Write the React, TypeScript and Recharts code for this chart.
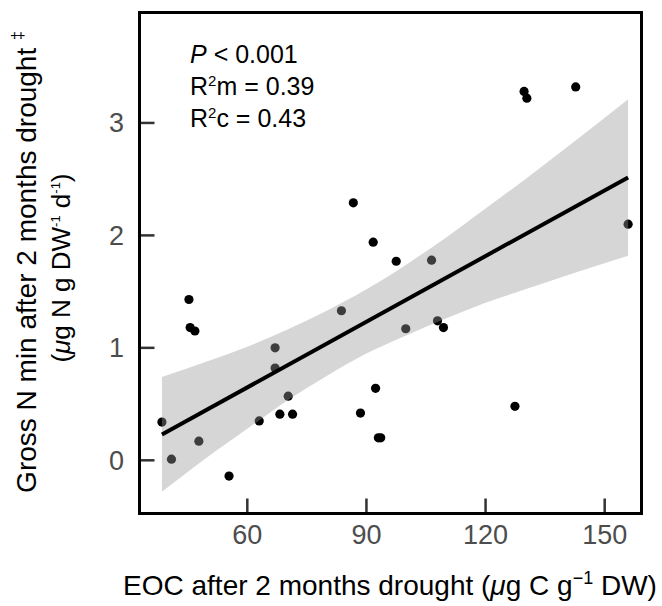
import React from "react";
import { ComposedChart, Scatter, Line, Area, XAxis, YAxis } from "recharts";

// EOC (x) vs gross N mineralisation (y), one entry per soil core
const eocValues = [38.5, 40.9, 45.3, 45.6, 46.8, 47.8, 55.4, 63.0, 67.0, 67.0, 68.2, 70.3, 71.4, 83.7, 86.7, 88.5, 91.7, 92.3, 93.0, 93.6, 97.5, 99.9, 106.4, 107.9, 109.4, 127.4, 129.7, 130.4, 142.7, 155.9];
const nminValues = [0.34, 0.01, 1.43, 1.18, 1.15, 0.17, -0.14, 0.35, 1.0, 0.82, 0.41, 0.57, 0.41, 1.33, 2.29, 0.42, 1.94, 0.64, 0.2, 0.2, 1.77, 1.17, 1.78, 1.24, 1.18, 0.48, 3.28, 3.22, 3.32, 2.1];

// fitted line ends
const fitX = [38.5, 155.9];
const fitY = [0.23, 2.515];

// confidence band
const bandX = [38.5, 50, 60, 70, 80, 90, 100, 110, 120, 130, 140, 155.9];
const bandLow = [-0.28, 0.03, 0.28, 0.53, 0.75, 0.95, 1.11, 1.26, 1.4, 1.52, 1.64, 1.82];
const bandHigh = [0.74, 0.88, 1.01, 1.16, 1.33, 1.52, 1.74, 1.98, 2.24, 2.5, 2.77, 3.21];

const xTicks = [60, 90, 120, 150];
const yTicks = [0, 1, 2, 3];

const points = eocValues.map((x, i) => ({ x, y: nminValues[i] }));
const fit = fitX.map((x, i) => ({ x, y: fitY[i] }));
const band = bandX.map((x, i) => ({ x, range: [bandLow[i], bandHigh[i]] }));

const W = 662;
const H = 606;
const LEFT = 139.5;
const RIGHT = 641.5;
const TOP = 12.5;
const BOTTOM = 513.5;
const FONT = "'Liberation Sans', Arial, Helvetica, sans-serif";
const TICK_COLOR = "#4d4d4d";

const XTick = (props: any) => {
  const { x, payload } = props;
  return (
    <g>
      <line x1={x} x2={x} y1={BOTTOM} y2={BOTTOM - 15} stroke="#333" strokeWidth={2.5} />
      <text x={x} y={543.5} textAnchor="middle" fontSize={27} fontFamily={FONT} fill={TICK_COLOR}>
        {payload.value}
      </text>
    </g>
  );
};

const YTick = (props: any) => {
  const { y, payload } = props;
  return (
    <g>
      <line x1={LEFT} x2={LEFT + 15} y1={y} y2={y} stroke="#333" strokeWidth={2.5} />
      <text x={124} y={y} dy="0.35em" textAnchor="end" fontSize={27} fontFamily={FONT} fill={TICK_COLOR}>
        {payload.value}
      </text>
    </g>
  );
};

const Dot = (props: any) => <circle cx={props.cx} cy={props.cy} r={4.6} fill="#000" />;

export default function App() {
  return (
    <div style={{ position: "absolute", left: 0, top: 0, width: W, height: H, background: "#fff" }}>
      <ComposedChart
        width={W}
        height={H}
        margin={{ top: TOP, right: W - RIGHT, bottom: 0, left: 0 }}
      >
        <XAxis
          dataKey="x"
          type="number"
          domain={[32.85, 159.27]}
          allowDataOverflow
          ticks={xTicks}
          height={H - BOTTOM}
          axisLine={false}
          tickLine={false}
          tick={<XTick />}
        />
        <YAxis
          dataKey="y"
          type="number"
          domain={[-0.473, 3.982]}
          allowDataOverflow
          ticks={yTicks}
          width={LEFT}
          axisLine={false}
          tickLine={false}
          tick={<YTick />}
        />
        <Scatter data={points} dataKey="y" shape={<Dot />} isAnimationActive={false} zIndex={50} />
        <Area
          data={band}
          dataKey="range"
          type="monotone"
          stroke="none"
          fill="#999999"
          fillOpacity={0.4}
          isAnimationActive={false}
          zIndex={100}
        />
        <Line
          data={fit}
          dataKey="y"
          type="linear"
          stroke="#000"
          strokeWidth={4}
          dot={false}
          activeDot={false}
          isAnimationActive={false}
          zIndex={400}
        />
      </ComposedChart>
      <svg
        width={W}
        height={H}
        style={{ position: "absolute", left: 0, top: 0, pointerEvents: "none" }}
        fontFamily={FONT}
      >
        <rect x={LEFT} y={TOP} width={RIGHT - LEFT} height={BOTTOM - TOP} fill="none" stroke="#000" strokeWidth={3} />
        <g fontSize={25} fill="#000">
          <text x={190} y={63}>
            <tspan fontStyle="italic">P</tspan> {"< 0.001"}
          </text>
          <text x={190} y={95}>
            R<tspan dy={-9} fontSize={15}>2</tspan>
            <tspan dy={9}>m = 0.39</tspan>
          </text>
          <text x={190} y={127}>
            R<tspan dy={-9} fontSize={15}>2</tspan>
            <tspan dy={9}>c = 0.43</tspan>
          </text>
        </g>
        <text x={390} y={595} textAnchor="middle" fontSize={28} fill="#000">
          EOC after 2 months drought (<tspan fontStyle="italic">μ</tspan>g C g
          <tspan dy={-11} fontSize={18}>−1</tspan>
          <tspan dy={11}> DW)</tspan>
        </text>
        <text transform="translate(36,262) rotate(-90)" textAnchor="middle" fontSize={28} fill="#000">
          Gross N min after 2 months drought <tspan dy={-13} fontSize={16}>‡</tspan>
        </text>
        <text transform="translate(70,268) rotate(-90)" textAnchor="middle" fontSize={26} fill="#000">
          (<tspan fontStyle="italic">μ</tspan>g N g DW<tspan dy={-10} fontSize={13}>-1</tspan>
          <tspan dy={10}> d</tspan>
          <tspan dy={-10} fontSize={13}>-1</tspan>
          <tspan dy={10}>)</tspan>
        </text>
      </svg>
    </div>
  );
}
